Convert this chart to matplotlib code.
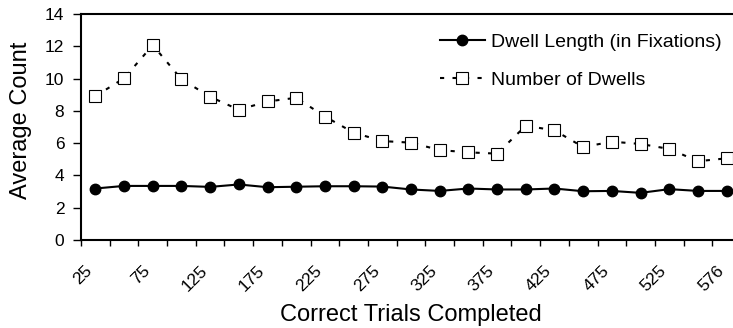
import numpy as np
import matplotlib
matplotlib.use("Agg")
from matplotlib import pyplot as plt
from matplotlib.transforms import ScaledTranslation

plt.rcParams['font.family'] = ['Liberation Sans', 'DejaVu Sans']

trials = ["25", "50", "75", "100", "125", "150", "175", "200", "225", "250", "275", "300",
          "325", "350", "375", "400", "425", "450", "475", "500", "525", "550", "576"]
dwell_length = [3.19, 3.35, 3.35, 3.35, 3.29, 3.44, 3.27, 3.30, 3.33, 3.33, 3.31, 3.13,
                3.04, 3.19, 3.13, 3.13, 3.19, 3.02, 3.04, 2.92, 3.15, 3.04, 3.04]
num_dwells = [8.91, 10.02, 12.07, 9.96, 8.87, 8.07, 8.58, 8.81, 7.65, 6.65, 6.13, 6.03,
              5.57, 5.43, 5.35, 7.08, 6.79, 5.76, 6.09, 5.95, 5.64, 4.88, 5.06]

fig = plt.figure(figsize=(7.33, 3.28), dpi=100)
# right edge of the plot area runs past the image, like the original crop
ax = fig.add_axes([81/733, 1 - 240/328, 660/733, 226/328])

x = np.arange(len(trials))
ax.plot(x, dwell_length, color='black', lw=1.5, marker='o', ms=7.5,
        label='Dwell Length (in Fixations)')
ax.plot(x, num_dwells, color='black', lw=1.5, ls=(0, (2, 4)), marker='s', ms=8.5,
        mfc='white', mec='black', mew=0.8, label='Number of Dwells')

ax.set_xlim(-0.5, len(trials) - 0.5)
ax.set_ylim(0, 14)
ax.set_yticks(np.arange(0, 15, 2))

# category boundaries get the tick marks, centres get the labels
ax.set_xticks(np.arange(-0.5, len(trials), 1))
ax.set_xticklabels([])
ax.set_xticks(x[::2], minor=True)
ax.set_xticklabels(trials[::2], minor=True, rotation=45, ha='right', fontsize=12.5)
shift = ScaledTranslation(-7/100, 0, fig.dpi_scale_trans)
for lbl in ax.get_xticklabels(minor=True):
    lbl.set_transform(lbl.get_transform() + shift)
ax.tick_params(axis='x', which='minor', length=0, pad=16.5)
ax.tick_params(axis='x', which='major', length=4, width=1, direction='out')
ax.tick_params(axis='y', length=6, width=1, direction='out', labelsize=12.5, pad=6)

for s in ax.spines.values():
    s.set_linewidth(1.5)

ax.set_ylabel('Average Count', fontsize=17)
ax.yaxis.set_label_coords(-0.074, 0.53)
ax.set_xlabel('Correct Trials Completed', fontsize=17)
ax.xaxis.set_label_coords(0.5, -0.285)

ax.legend(loc='upper left', bbox_to_anchor=(440/733, 1 - 33/328), bbox_transform=fig.transFigure,
          frameon=False, fontsize=14, handlelength=2.3, labelspacing=1.05, handletextpad=0.3,
          borderaxespad=0, borderpad=0)

fig.savefig('out.png', dpi=100)
